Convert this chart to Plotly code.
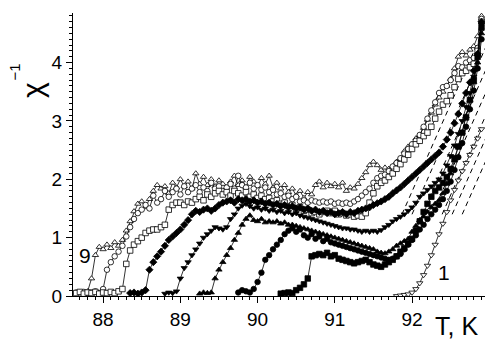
import plotly.graph_objects as go

# Common temperature grid (K)
T_GRID = [
    87.65, 87.70, 87.75, 87.80, 87.85, 87.90, 87.95, 88.00, 88.05, 88.10,
    88.15, 88.20, 88.25, 88.30, 88.35, 88.40, 88.45, 88.50, 88.55, 88.60,
    88.65, 88.70, 88.75, 88.80, 88.85, 88.90, 88.95, 89.00, 89.05, 89.10,
    89.15, 89.20, 89.25, 89.30, 89.35, 89.40, 89.45, 89.50, 89.55, 89.60,
    89.65, 89.70, 89.75, 89.80, 89.85, 89.90, 89.95, 90.00, 90.05, 90.10,
    90.15, 90.20, 90.25, 90.30, 90.35, 90.40, 90.45, 90.50, 90.55, 90.60,
    90.65, 90.70, 90.75, 90.80, 90.85, 90.90, 90.95, 91.00, 91.05, 91.10,
    91.15, 91.20, 91.25, 91.30, 91.35, 91.40, 91.45, 91.50, 91.55, 91.60,
    91.65, 91.70, 91.75, 91.80, 91.85, 91.90, 91.95, 92.00, 92.05, 92.10,
    92.15, 92.20, 92.25, 92.30, 92.35, 92.40, 92.45, 92.50, 92.55, 92.60,
    92.65, 92.70, 92.75, 92.80, 92.85, 92.90,
]

# Inverse susceptibility curves: first temperature of each curve and values on the grid
START_9 = 87.65
CHI_9 = [
    0.05, 0.06, 0.04, 0.08, 0.30, 0.70, 0.84, 0.80, 0.88, 0.82,
    0.92, 0.86, 0.96, 1.12, 1.28, 1.45, 1.58, 1.62, 1.52, 1.66,
    1.80, 1.90, 1.84, 1.88, 1.76, 1.94, 1.86, 2.00, 1.88, 1.96,
    1.84, 2.10, 1.92, 2.04, 1.90, 2.00, 1.88, 1.98, 1.92, 1.86,
    1.96, 2.06, 1.90, 1.98, 1.86, 2.04, 1.96, 1.88, 2.02, 1.92,
    2.06, 1.86, 1.94, 1.84, 1.90, 1.78, 1.84, 1.72, 1.80, 1.68,
    1.78, 1.74, 1.90, 1.96, 1.86, 1.94, 1.88, 1.92, 1.86, 1.94,
    1.80, 1.86, 1.84, 1.92, 2.02, 2.12, 2.24, 2.30, 2.24, 2.16,
    2.20, 2.18, 2.22, 2.30, 2.36, 2.48, 2.56, 2.60, 2.70, 2.76,
    2.88, 3.02, 3.14, 3.28, 3.40, 3.50, 3.60, 3.72, 3.90, 4.10,
    4.18, 4.12, 4.22, 4.28, 4.45, 4.80,
]
START_8 = 87.65
CHI_8 = [
    0.06, 0.04, 0.07, 0.05, 0.06, 0.08, 0.05, 0.12, 0.45, 0.58,
    0.68, 0.76, 0.86, 1.02, 1.18, 1.32, 1.42, 1.48, 1.56, 1.50,
    1.72, 1.60, 1.66, 1.80, 1.70, 1.78, 1.84, 1.74, 1.88, 1.78,
    1.84, 1.90, 1.78, 1.86, 1.80, 1.94, 1.84, 1.88, 1.80, 1.86,
    1.92, 1.84, 2.06, 1.90, 1.86, 1.94, 1.84, 1.90, 1.82, 1.86,
    1.78, 1.82, 1.74, 1.76, 1.70, 1.72, 1.66, 1.70, 1.62, 1.64,
    1.60, 1.64, 1.62, 1.60, 1.62, 1.60, 1.62, 1.58, 1.60, 1.58,
    1.60, 1.58, 1.62, 1.66, 1.72, 1.78, 1.84, 1.94, 2.02, 2.06,
    2.08, 2.14, 2.22, 2.28, 2.36, 2.44, 2.52, 2.60, 2.66, 2.76,
    2.90, 3.04, 3.18, 3.32, 3.48, 3.58, 3.60, 3.70, 3.82, 3.94,
    3.92, 4.00, 4.04, 4.08, 4.25, 4.75,
]
START_7 = 87.65
CHI_7 = [
    0.05, 0.07, 0.04, 0.06, 0.05, 0.07, 0.04, 0.06, 0.05, 0.07,
    0.05, 0.08, 0.12, 0.55, 0.78, 0.88, 0.94, 1.00, 1.08, 1.12,
    1.14, 1.14, 1.18, 1.22, 1.48, 1.56, 1.60, 1.60, 1.56, 1.62,
    1.60, 1.66, 1.70, 1.64, 1.74, 1.70, 1.76, 1.80, 1.74, 1.78,
    1.72, 1.80, 1.76, 1.72, 1.78, 1.70, 1.74, 1.68, 1.72, 1.66,
    1.68, 1.62, 1.64, 1.58, 1.60, 1.54, 1.56, 1.50, 1.52, 1.46,
    1.48, 1.42, 1.44, 1.40, 1.44, 1.46, 1.42, 1.46, 1.40, 1.42,
    1.38, 1.40, 1.36, 1.38, 1.36, 1.42, 1.60, 1.76, 1.88, 1.94,
    1.98, 2.04, 2.10, 2.18, 2.26, 2.34, 2.42, 2.52, 2.60, 2.66,
    2.74, 2.80, 2.90, 3.04, 3.16, 3.28, 3.34, 3.44, 3.58, 3.72,
    3.82, 3.86, 3.92, 3.98, 4.20, 4.70,
]
START_6 = 88.35
CHI_6 = [
    0.05, 0.06, 0.04, 0.06, 0.10, 0.45,
    0.58, 0.68, 0.76, 0.86, 0.96, 1.02, 1.08, 1.14, 1.22, 1.30,
    1.40, 1.46, 1.44, 1.48, 1.50, 1.46, 1.50, 1.56, 1.60, 1.62,
    1.64, 1.60, 1.66, 1.64, 1.66, 1.62, 1.64, 1.60, 1.62, 1.58,
    1.60, 1.56, 1.58, 1.54, 1.56, 1.52, 1.54, 1.50, 1.52, 1.48,
    1.50, 1.46, 1.48, 1.44, 1.46, 1.42, 1.44, 1.40, 1.42, 1.44,
    1.40, 1.44, 1.42, 1.46, 1.48, 1.50, 1.52, 1.56, 1.59, 1.62,
    1.66, 1.70, 1.76, 1.81, 1.86, 1.92, 1.98, 2.04, 2.10, 2.16,
    2.22, 2.28, 2.34, 2.40, 2.46, 2.56, 2.68, 2.80, 2.96, 3.12,
    3.30, 3.48, 3.66, 3.86, 4.15, 4.70,
]
START_5 = 88.80
CHI_5 = [
    0.04, 0.06, 0.05, 0.08, 0.30, 0.48, 0.58,
    0.70, 0.80, 0.90, 1.00, 1.06, 1.12, 1.18, 1.16, 1.14, 1.18,
    1.32, 1.40, 1.50, 1.55, 1.58, 1.54, 1.50, 1.52, 1.48, 1.50,
    1.46, 1.48, 1.44, 1.46, 1.42, 1.44, 1.40, 1.42, 1.38, 1.36,
    1.34, 1.32, 1.30, 1.28, 1.26, 1.24, 1.22, 1.20, 1.18, 1.16,
    1.16, 1.14, 1.14, 1.12, 1.10, 1.12, 1.10, 1.12, 1.10, 1.13,
    1.18, 1.22, 1.28, 1.32, 1.36, 1.40, 1.46, 1.52, 1.60, 1.70,
    1.76, 1.82, 1.88, 1.94, 2.00, 2.10, 2.24, 2.40, 2.58, 2.78,
    3.00, 3.24, 3.48, 3.76, 4.10, 4.65,
]
START_4 = 89.25
CHI_4 = [
    0.04, 0.06, 0.05, 0.06, 0.30, 0.45, 0.58, 0.70,
    0.82, 0.96, 1.08, 1.22, 1.32, 1.38, 1.30, 1.28, 1.32, 1.26,
    1.28, 1.26, 1.28, 1.24, 1.26, 1.22, 1.22, 1.20, 1.18, 1.16,
    1.14, 1.12, 1.10, 1.08, 1.06, 1.04, 1.02, 1.00, 0.98, 0.96,
    0.94, 0.92, 0.90, 0.88, 0.86, 0.84, 0.82, 0.80, 0.76, 0.74,
    0.73, 0.76, 0.80, 0.86, 0.90, 0.94, 0.98, 1.10, 1.20, 1.30,
    1.36, 1.44, 1.52, 1.58, 1.64, 1.76, 1.92, 2.10, 2.32, 2.56,
    2.80, 3.08, 3.36, 3.66, 4.00, 4.50,
]
START_3 = 89.75
CHI_3 = [
    0.06, 0.10, 0.08, 0.06, 0.12, 0.24, 0.40, 0.62,
    0.70, 0.80, 0.88, 0.96, 1.06, 1.12, 1.16, 1.10, 1.14, 1.04,
    1.00, 1.06, 0.98, 1.02, 0.94, 0.98, 0.92, 0.90, 0.88, 0.86,
    0.84, 0.82, 0.80, 0.78, 0.76, 0.74, 0.72, 0.70, 0.68, 0.66,
    0.64, 0.62, 0.64, 0.68, 0.72, 0.80, 0.88, 0.96, 1.04, 1.14,
    1.22, 1.32, 1.40, 1.48, 1.56, 1.66, 1.80, 1.96, 2.16, 2.38,
    2.62, 2.90, 3.20, 3.52, 3.90, 4.40,
]
START_2 = 90.30
CHI_2 = [
    0.04, 0.05, 0.06, 0.05, 0.10, 0.14, 0.20,
    0.30, 0.68, 0.70, 0.72, 0.70, 0.74, 0.68, 0.70, 0.64, 0.62,
    0.60, 0.58, 0.56, 0.58, 0.60, 0.62, 0.58, 0.54, 0.52, 0.50,
    0.54, 0.58, 0.62, 0.68, 0.76, 0.82, 0.90, 0.98, 1.12, 1.28,
    1.44, 1.58, 1.70, 1.80, 1.86, 1.94, 2.04, 2.18, 2.36, 2.56,
    2.80, 3.06, 3.36, 3.70, 4.10, 4.60,
]
START_1 = 91.80
CHI_1 = [
    0.00, 0.01, 0.02, 0.03, 0.06, 0.12, 0.22,
    0.36, 0.52, 0.70, 0.88, 1.06, 1.24, 1.44, 1.64, 1.82, 1.98,
    2.14, 2.28, 2.42, 2.56, 2.70, 2.86,
]

# Dashed linear extrapolations (start/end points)
DASH_T0 = [91.87, 92.00, 92.13, 92.26, 92.39, 92.52, 92.65]
DASH_T1 = [93.02, 93.15, 93.28, 93.41, 93.54, 93.67, 93.80]
DASH_CHI0 = [1.4, 1.4, 1.4, 1.4, 1.4, 1.4, 1.4]
DASH_CHI1 = [4.85, 4.85, 4.85, 4.85, 4.85, 4.85, 4.85]

X_RANGE = [87.61, 92.945]
Y_RANGE = [0, 4.85]

FONT = "Liberation Sans, Arial, sans-serif"

fig = go.Figure()

for t0, t1, c0, c1 in zip(DASH_T0, DASH_T1, DASH_CHI0, DASH_CHI1):
    fig.add_trace(go.Scatter(
        x=[t0, t1], y=[c0, c1], mode="lines",
        line=dict(color="black", width=1, dash="5px,4px"),
        showlegend=False, hoverinfo="skip"))

curves = [
    (START_9, CHI_9, "triangle-up", "white"),
    (START_8, CHI_8, "circle", "white"),
    (START_7, CHI_7, "square", "white"),
    (START_6, CHI_6, "diamond", "black"),
    (START_5, CHI_5, "triangle-down", "black"),
    (START_4, CHI_4, "triangle-up", "black"),
    (START_3, CHI_3, "circle", "black"),
    (START_2, CHI_2, "square", "black"),
    (START_1, CHI_1, "triangle-down", "white"),
]

for start, chi, sym, fill in curves:
    i0 = T_GRID.index(start)
    ts = T_GRID[i0:i0 + len(chi)]
    fig.add_trace(go.Scatter(
        x=ts, y=chi, mode="lines+markers",
        line=dict(color="black", width=0.8),
        marker=dict(symbol=sym, size=5.5, color=fill,
                    line=dict(color="black", width=0.8)),
        showlegend=False))

# empty trace to carry the overlay axes used for minor ticks
fig.add_trace(go.Scatter(x=[None], y=[None], xaxis="x2", yaxis="y2",
                         showlegend=False, hoverinfo="skip"))

axis_common = dict(
    ticks="outside", ticklen=6, tickwidth=1, tickcolor="black",
    showline=True, linecolor="black", linewidth=1,
    showgrid=False, zeroline=False,
    tickfont=dict(size=19, family=FONT),
)

minor_common = dict(
    ticks="outside", ticklen=3, tickwidth=1, tickcolor="black",
    showline=False, showgrid=False, zeroline=False, showticklabels=False,
)

fig.update_layout(
    width=494, height=342,
    margin=dict(l=73, r=9, t=13, b=46),
    paper_bgcolor="white", plot_bgcolor="white",
    font=dict(family=FONT, color="black", size=18),
    xaxis=dict(range=X_RANGE, tickmode="linear", tick0=88, dtick=1, **axis_common),
    yaxis=dict(range=Y_RANGE, tickmode="linear", tick0=0, dtick=1, **axis_common),
    xaxis2=dict(range=X_RANGE, overlaying="x", anchor="y", side="bottom",
                tickmode="linear", tick0=88, dtick=0.1, **minor_common),
    yaxis2=dict(range=Y_RANGE, overlaying="y", anchor="x", side="left",
                tickmode="linear", tick0=0, dtick=0.1, **minor_common),
    annotations=[
        dict(text="χ", xref="paper", yref="paper", x=-0.097, y=0.728,
             xanchor="center", yanchor="middle",
             textangle=-90, showarrow=False, font=dict(size=30, family=FONT)),
        dict(text="−1", xref="paper", yref="paper", x=-0.143, y=0.79,
             xanchor="center", yanchor="middle",
             textangle=-90, showarrow=False, font=dict(size=15, family=FONT)),
        dict(text="T, K", xref="paper", yref="paper", x=0.932, y=-0.106,
             xanchor="center", yanchor="middle", showarrow=False,
             font=dict(size=25, family=FONT)),
        dict(text="9", x=87.76, y=0.70, xanchor="center", yanchor="middle",
             showarrow=False, font=dict(size=21, family=FONT)),
        dict(text="1", x=92.41, y=0.41, xanchor="center", yanchor="middle",
             showarrow=False, font=dict(size=21, family=FONT)),
    ],
)

fig.write_html("out.html", config={"displayModeBar": False},
               post_script="document.body.style.margin='0px';")
